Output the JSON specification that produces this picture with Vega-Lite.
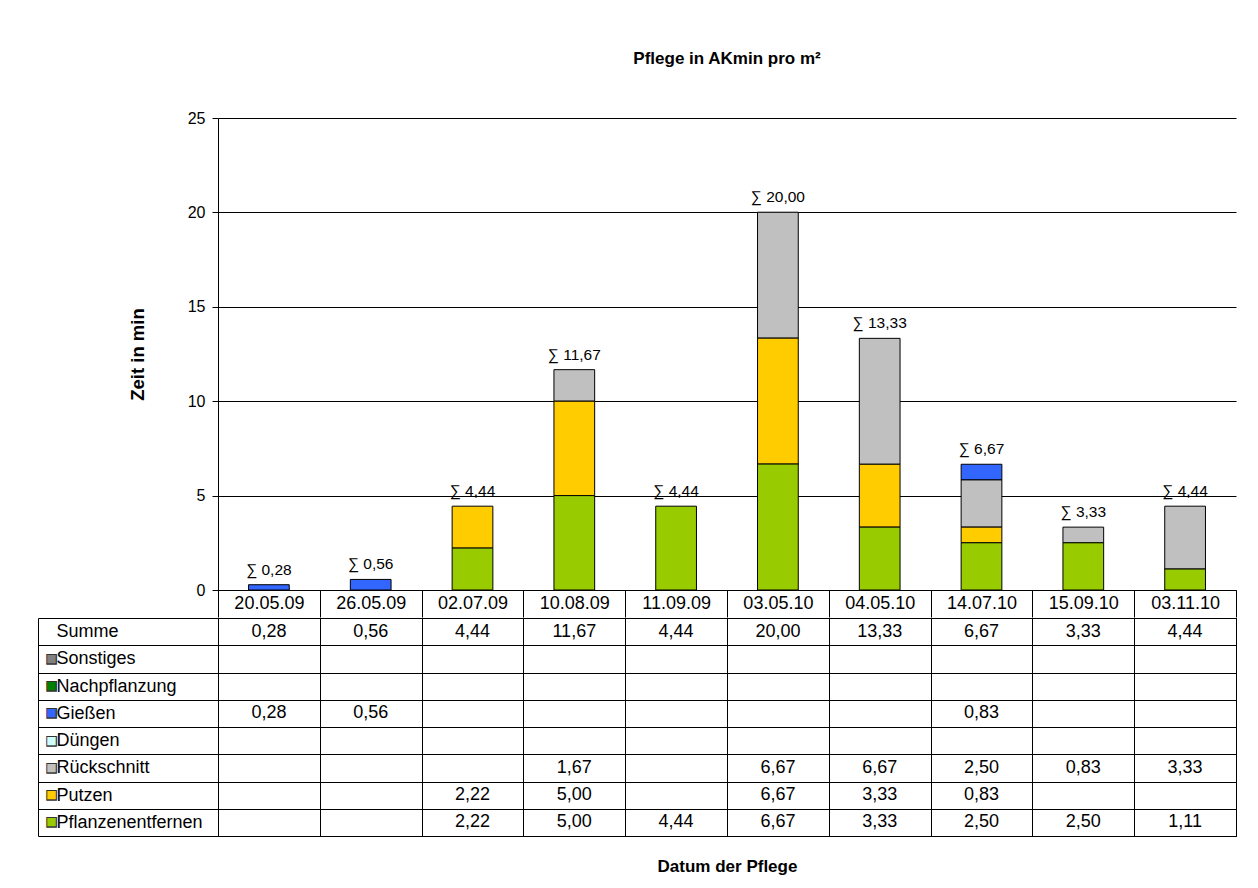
{
  "$schema": "https://vega.github.io/schema/vega-lite/v6.json",
  "background": "white",
  "padding": {"left": 37, "top": 50, "right": 5, "bottom": 5},
  "spacing": -11,
  "datasets": {
    "table": [
      {"date": "20.05.09", "row": "Summe", "value": 0.28},
      {"date": "26.05.09", "row": "Summe", "value": 0.56},
      {"date": "02.07.09", "row": "Summe", "value": 4.44},
      {"date": "10.08.09", "row": "Summe", "value": 11.67},
      {"date": "11.09.09", "row": "Summe", "value": 4.44},
      {"date": "03.05.10", "row": "Summe", "value": 20.00},
      {"date": "04.05.10", "row": "Summe", "value": 13.33},
      {"date": "14.07.10", "row": "Summe", "value": 6.67},
      {"date": "15.09.10", "row": "Summe", "value": 3.33},
      {"date": "03.11.10", "row": "Summe", "value": 4.44},
      {"date": "20.05.09", "row": "Gießen", "value": 0.28},
      {"date": "26.05.09", "row": "Gießen", "value": 0.56},
      {"date": "14.07.10", "row": "Gießen", "value": 0.83},
      {"date": "10.08.09", "row": "Rückschnitt", "value": 1.67},
      {"date": "03.05.10", "row": "Rückschnitt", "value": 6.67},
      {"date": "04.05.10", "row": "Rückschnitt", "value": 6.67},
      {"date": "14.07.10", "row": "Rückschnitt", "value": 2.50},
      {"date": "15.09.10", "row": "Rückschnitt", "value": 0.83},
      {"date": "03.11.10", "row": "Rückschnitt", "value": 3.33},
      {"date": "02.07.09", "row": "Putzen", "value": 2.22},
      {"date": "10.08.09", "row": "Putzen", "value": 5.00},
      {"date": "03.05.10", "row": "Putzen", "value": 6.67},
      {"date": "04.05.10", "row": "Putzen", "value": 3.33},
      {"date": "14.07.10", "row": "Putzen", "value": 0.83},
      {"date": "02.07.09", "row": "Pflanzenentfernen", "value": 2.22},
      {"date": "10.08.09", "row": "Pflanzenentfernen", "value": 5.00},
      {"date": "11.09.09", "row": "Pflanzenentfernen", "value": 4.44},
      {"date": "03.05.10", "row": "Pflanzenentfernen", "value": 6.67},
      {"date": "04.05.10", "row": "Pflanzenentfernen", "value": 3.33},
      {"date": "14.07.10", "row": "Pflanzenentfernen", "value": 2.50},
      {"date": "15.09.10", "row": "Pflanzenentfernen", "value": 2.50},
      {"date": "03.11.10", "row": "Pflanzenentfernen", "value": 1.11}
    ]
  },
  "vconcat": [
    {
      "width": 1018,
      "height": 472,
      "view": {"stroke": null},
      "title": {"text": "Pflege in AKmin pro m²", "frame": "group", "anchor": "middle", "fontSize": 17, "fontWeight": "bold", "font": "Liberation Sans", "color": "black", "offset": 42},
      "data": {"name": "table"},
      "layer": [
        {
          "transform": [
            {"filter": "datum.row !== 'Summe'"},
            {"calculate": "indexof(['Pflanzenentfernen', 'Putzen', 'Rückschnitt', 'Düngen', 'Gießen', 'Nachpflanzung', 'Sonstiges'], datum.row)", "as": "stackrank"}
          ],
          "mark": {"type": "bar", "stroke": "black", "strokeWidth": 1, "width": {"band": 0.4}},
          "encoding": {
            "x": {
              "field": "date", "type": "nominal",
              "scale": {"domain": ["20.05.09", "26.05.09", "02.07.09", "10.08.09", "11.09.09", "03.05.10", "04.05.10", "14.07.10", "15.09.10", "03.11.10"], "paddingInner": 0, "paddingOuter": 0},
              "axis": {"title": null, "orient": "bottom", "labelAngle": 0, "labelFontSize": 18, "labelBaseline": "middle", "labelPadding": -13.5, "ticks": true, "tickSize": 27, "tickBand": "extent", "domain": true, "grid": false, "minExtent": 27, "maxExtent": 27}
            },
            "y": {
              "field": "value", "type": "quantitative", "aggregate": "sum", "stack": "zero",
              "scale": {"domain": [0, 25], "nice": false},
              "axis": {"title": "Zeit in min", "titleFontSize": 18.5, "titleFontWeight": "bold", "titlePadding": 40, "values": [0, 5, 10, 15, 20, 25], "labelFontSize": 16, "labelPadding": 7, "tickSize": 6, "grid": true, "gridColor": "black", "gridOpacity": 1, "domain": true}
            },
            "color": {
              "field": "row", "type": "nominal",
              "scale": {"domain": ["Pflanzenentfernen", "Putzen", "Rückschnitt", "Düngen", "Gießen", "Nachpflanzung", "Sonstiges"], "range": ["#99cc00", "#ffcc00", "#c0c0c0", "#ccffff", "#3366ff", "#008000", "#808080"]},
              "legend": null
            },
            "order": {"field": "stackrank", "type": "quantitative", "sort": "ascending"}
          }
        },
        {
          "transform": [{"filter": "datum.row === 'Summe'"}],
          "mark": {"type": "text", "baseline": "bottom", "dy": -7, "fontSize": 15.5, "font": "Liberation Sans", "color": "black"},
          "encoding": {
            "x": {"field": "date", "type": "nominal"},
            "y": {"field": "value", "type": "quantitative"},
            "text": {"field": "value", "type": "quantitative", "format": "$.2f"}
          }
        }
      ]
    },
    {
      "width": 1018,
      "height": 218,
      "view": {"stroke": "black", "strokeWidth": 1},
      "data": {"name": "table"},
      "layer": [
        {
          "mark": {"type": "text", "fontSize": 18, "font": "Liberation Sans", "color": "black", "baseline": "middle"},
          "encoding": {
            "x": {
              "field": "date", "type": "nominal",
              "scale": {"domain": ["20.05.09", "26.05.09", "02.07.09", "10.08.09", "11.09.09", "03.05.10", "04.05.10", "14.07.10", "15.09.10", "03.11.10"], "paddingInner": 0, "paddingOuter": 0},
              "axis": {"title": "Datum der Pflege", "titleFontSize": 17, "titleFontWeight": "bold", "titlePadding": 22, "labels": false, "ticks": false, "domain": false, "grid": true, "gridColor": "black", "gridOpacity": 1, "tickBand": "extent"}
            },
            "y": {
              "field": "row", "type": "nominal",
              "scale": {"domain": ["Summe", "Sonstiges", "Nachpflanzung", "Gießen", "Düngen", "Rückschnitt", "Putzen", "Pflanzenentfernen"], "paddingInner": 0, "paddingOuter": 0},
              "axis": {"orient": "left", "title": null, "domain": true, "ticks": true, "tickSize": 180, "tickBand": "extent", "labelAlign": "left", "labelBaseline": "middle", "labelPadding": -18, "labelFontSize": 18, "labelLimit": 300, "grid": true, "gridColor": "black", "gridOpacity": 1}
            },
            "text": {"field": "value", "type": "quantitative", "format": ".2f"}
          }
        },
        {
          "mark": {"type": "text", "opacity": 0},
          "encoding": {
            "y": {
              "field": "row", "type": "nominal",
              "scale": {"domain": ["Summe", "Sonstiges", "Nachpflanzung", "Gießen", "Düngen", "Rückschnitt", "Putzen", "Pflanzenentfernen"]},
              "axis": {"orient": "left", "offset": 180, "title": null, "domain": true, "ticks": false, "tickSize": 0, "grid": false, "labelExpr": "datum.value === 'Summe' ? '' : '■'", "labelFont": "DejaVu Sans", "labelFontSize": 14, "labelAlign": "center", "labelBaseline": "middle", "labelPadding": -13, "labelColor": "#333333"}
            },
            "text": {"value": ""}
          }
        },
        {
          "mark": {"type": "text", "opacity": 0},
          "encoding": {
            "y": {
              "field": "row", "type": "nominal",
              "scale": {"domain": ["Summe", "Sonstiges", "Nachpflanzung", "Gießen", "Düngen", "Rückschnitt", "Putzen", "Pflanzenentfernen"]},
              "axis": {"orient": "left", "offset": 180, "title": null, "domain": false, "ticks": false, "tickSize": 0, "grid": false, "labelExpr": "datum.value === 'Summe' ? '' : '■'", "labelFont": "DejaVu Sans", "labelFontSize": 11, "labelAlign": "center", "labelBaseline": "middle", "labelPadding": -13,
                "labelColor": {"condition": [
                  {"test": "datum.value === 'Sonstiges'", "value": "#808080"},
                  {"test": "datum.value === 'Nachpflanzung'", "value": "#008000"},
                  {"test": "datum.value === 'Gießen'", "value": "#3366ff"},
                  {"test": "datum.value === 'Düngen'", "value": "#ccffff"},
                  {"test": "datum.value === 'Rückschnitt'", "value": "#c0c0c0"},
                  {"test": "datum.value === 'Putzen'", "value": "#ffcc00"},
                  {"test": "datum.value === 'Pflanzenentfernen'", "value": "#99cc00"}
                ], "value": "black"}}
            },
            "text": {"value": ""}
          }
        }
      ],
      "resolve": {"axis": {"y": "independent"}}
    }
  ],
  "config": {
    "font": "Liberation Sans",
    "locale": {"number": {"decimal": ",", "thousands": ".", "grouping": [3], "currency": ["∑ ", ""]}},
    "axis": {"labelFont": "Liberation Sans", "titleFont": "Liberation Sans", "labelColor": "black", "titleColor": "black", "domainColor": "black", "tickColor": "black", "gridColor": "black"}
  }
}
